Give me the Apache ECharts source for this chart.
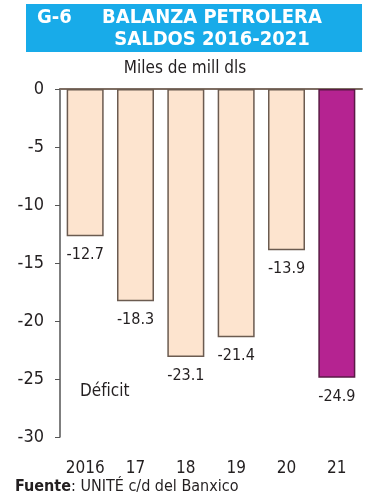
<!DOCTYPE html>
<html lang="es">
<head>
<meta charset="utf-8">
<title>G-6 Balanza petrolera</title>
<style>
  html, body { margin: 0; padding: 0; background: #fff; }
  #main { width: 376px; height: 500px; }
</style>
</head>
<body>
<div id="main"></div>
<script src="https://cdn.jsdelivr.net/npm/echarts@6/dist/echarts.min.js"></script>
<script>
  // datos
  var years = ['2016', '17', '18', '19', '20', '21'];
  var saldos = [-12.7, -18.3, -23.1, -21.4, -13.9, -24.9];
  var yTicks = [0, -5, -10, -15, -20, -25, -30];

  var fnt = '"DejaVu Sans Condensed", "Liberation Sans Narrow", "Roboto", sans-serif';
  var ink = '#231f20';

  var chart = echarts.init(document.getElementById('main'));

  var option = {
    animation: false,
    backgroundColor: '#fff',
    textStyle: { fontFamily: fnt },
    grid: { left: 60, right: 14, top: 89, bottom: 63 },
    graphic: [
      { type: 'rect', shape: { x: 26, y: 4, width: 336, height: 48 }, style: { fill: '#18abe9' } },
      { type: 'text', x: 37, y: 8, style: { text: 'G-6', fill: '#fff', font: 'bold 20px ' + fnt } },
      { type: 'text', x: 212, y: 8, style: { text: 'BALANZA PETROLERA', fill: '#fff', font: 'bold 20px ' + fnt, textAlign: 'center' } },
      { type: 'text', x: 212, y: 30, style: { text: 'SALDOS 2016-2021', fill: '#fff', font: 'bold 20px ' + fnt, textAlign: 'center' } },
      { type: 'text', x: 185, y: 60, style: { text: 'Miles de mill dls', fill: ink, font: '17px ' + fnt, textAlign: 'center' } },
      { type: 'text', x: 80, y: 383, style: { text: 'Déficit', fill: ink, font: '17px ' + fnt } },
      { type: 'text', x: 15, y: 479, style: {
          text: '{b|Fuente}: UNITÉ c/d del Banxico',
          font: '16px ' + fnt, fill: ink,
          rich: { b: { fontWeight: 'bold', fontSize: 16, fontFamily: fnt, fill: ink } }
      } }
    ],
    xAxis: [
      {
        type: 'category', data: years, position: 'top',
        axisLine: { lineStyle: { color: '#7d6d62', width: 2 } },
        axisTick: { inside: true, length: 4, lineStyle: { color: '#7d6d62' } },
        axisLabel: { show: false }
      },
      {
        type: 'category', data: years, position: 'bottom', gridIndex: 0,
        axisLine: { show: false }, axisTick: { show: false },
        axisLabel: { color: ink, fontSize: 17, margin: 23, interval: 0, fontFamily: fnt }
      }
    ],
    yAxis: {
      type: 'value', min: -30, max: 0, interval: 5,
      splitLine: { show: false },
      axisLine: { show: true, lineStyle: { color: '#555', width: 1.5 } },
      axisTick: { show: true, length: 5, lineStyle: { color: '#555' } },
      axisLabel: { color: ink, fontSize: 18, margin: 16, fontFamily: fnt }
    },
    series: [{
      type: 'bar', xAxisIndex: 0, barWidth: 37,
      data: saldos.map(function (v, i) {
        var last = i === saldos.length - 1;
        return {
          value: v,
          itemStyle: {
            color: last ? '#b52391' : '#fde4cf',
            borderColor: last ? '#5a1a45' : '#6b5b50',
            borderWidth: 1.5
          }
        };
      }),
      label: {
        show: true, position: 'bottom', distance: 11,
        color: ink, fontSize: 16, fontFamily: fnt,
        formatter: function (p) { return p.value.toFixed(1); }
      }
    }]
  };

  chart.setOption(option);
</script>
</body>
</html>
